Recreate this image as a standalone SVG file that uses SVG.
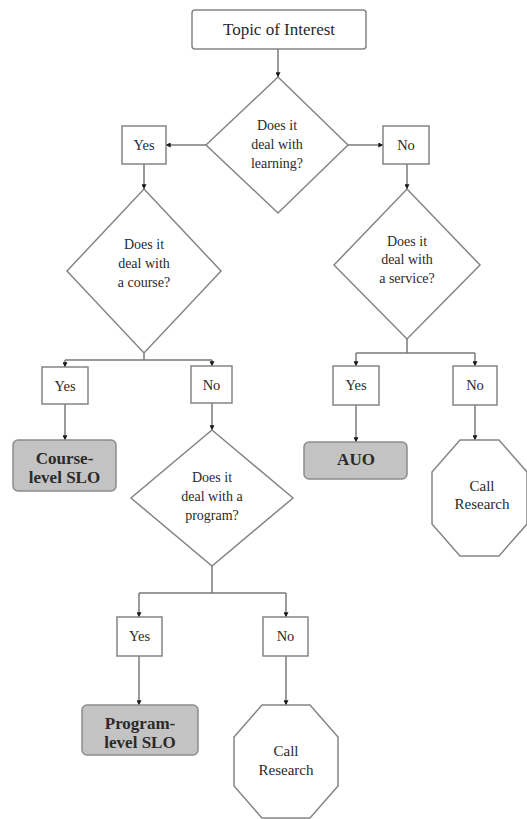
<svg xmlns="http://www.w3.org/2000/svg" width="527" height="819" viewBox="0 0 527 819">
  <style>
    .shape { fill: #ffffff; stroke: #858585; stroke-width: 1.5; }
    .result { fill: #c3c3c3; stroke: #8c8c8c; stroke-width: 1.5; }
    .wire { fill: none; stroke: #7a7a7a; stroke-width: 1.5; }
    text { font-family: "Liberation Serif", "Times New Roman", serif; fill: #2a2a2a; text-anchor: middle; }
    .q { font-size: 14px; }
    .lbl { font-size: 14.5px; }
    .bold { font-size: 17px; font-weight: bold; }
    .title { font-size: 17px; }
    .stop { font-size: 15px; }
  </style>
  <defs>
    <marker id="arrow" viewBox="0 0 8 8" refX="7.5" refY="4" markerWidth="5" markerHeight="5" orient="auto" markerUnits="userSpaceOnUse">
      <path d="M0,0 L8,4 L0,8 Z" fill="#1a1a1a"/>
    </marker>
  </defs>
  <rect width="527" height="819" fill="#ffffff"/>

  <!-- connectors -->
  <g id="connectors">
    <line class="wire" x1="278" y1="49" x2="278" y2="77" marker-end="url(#arrow)"/>
    <line class="wire" x1="206" y1="145" x2="166" y2="145" marker-end="url(#arrow)"/>
    <line class="wire" x1="348" y1="145" x2="383" y2="145" marker-end="url(#arrow)"/>
    <line class="wire" x1="144" y1="164" x2="144" y2="189" marker-end="url(#arrow)"/>
    <line class="wire" x1="407" y1="164" x2="407" y2="189" marker-end="url(#arrow)"/>
    <!-- course split -->
    <path class="wire" d="M144,353 V360 M65,360 H212"/>
    <line class="wire" x1="65" y1="360" x2="65" y2="367" marker-end="url(#arrow)"/>
    <line class="wire" x1="212" y1="360" x2="212" y2="366" marker-end="url(#arrow)"/>
    <line class="wire" x1="65" y1="404" x2="65" y2="440" marker-end="url(#arrow)"/>
    <line class="wire" x1="212" y1="403" x2="212" y2="430" marker-end="url(#arrow)"/>
    <!-- program split -->
    <path class="wire" d="M212,566 V593 M139,593 H286"/>
    <line class="wire" x1="139" y1="593" x2="139" y2="617" marker-end="url(#arrow)"/>
    <line class="wire" x1="286" y1="593" x2="286" y2="617" marker-end="url(#arrow)"/>
    <line class="wire" x1="139" y1="656" x2="139" y2="705" marker-end="url(#arrow)"/>
    <line class="wire" x1="286" y1="656" x2="286" y2="705" marker-end="url(#arrow)"/>
    <!-- service split -->
    <path class="wire" d="M407,339 V353 M356,353 H475"/>
    <line class="wire" x1="356" y1="353" x2="356" y2="366" marker-end="url(#arrow)"/>
    <line class="wire" x1="475" y1="353" x2="475" y2="366" marker-end="url(#arrow)"/>
    <line class="wire" x1="356" y1="405" x2="356" y2="442" marker-end="url(#arrow)"/>
    <line class="wire" x1="475" y1="405" x2="475" y2="440" marker-end="url(#arrow)"/>
  </g>

  <g id="topic">
    <rect class="shape" x="192" y="10" width="174" height="39" rx="3"/>
    <text class="title" x="279" y="35">Topic of Interest</text>
  </g>

  <g id="q-learning">
    <polygon class="shape" points="278,77 348,145 278,213 206,145"/>
    <text class="q" x="277" y="130">Does it</text>
    <text class="q" x="277" y="149">deal with</text>
    <text class="q" x="277" y="168">learning?</text>
  </g>

  <g id="yes-learning">
    <rect class="shape" x="122" y="126" width="44" height="38"/>
    <text class="lbl" x="144" y="150">Yes</text>
  </g>
  <g id="no-learning">
    <rect class="shape" x="383" y="126" width="46" height="38"/>
    <text class="lbl" x="406" y="150">No</text>
  </g>

  <g id="q-course">
    <polygon class="shape" points="144,189 221,271 144,353 67,271"/>
    <text class="q" x="144" y="249">Does it</text>
    <text class="q" x="144" y="268">deal with</text>
    <text class="q" x="144" y="287">a course?</text>
  </g>

  <g id="q-service">
    <polygon class="shape" points="407,189 480,265 407,339 334,265"/>
    <text class="q" x="407" y="246">Does it</text>
    <text class="q" x="407" y="264">deal with</text>
    <text class="q" x="407" y="283">a service?</text>
  </g>

  <g id="yes-course">
    <rect class="shape" x="42" y="367" width="46" height="37"/>
    <text class="lbl" x="65" y="391">Yes</text>
  </g>
  <g id="no-course">
    <rect class="shape" x="191" y="366" width="41" height="37"/>
    <text class="lbl" x="211.5" y="390">No</text>
  </g>

  <g id="yes-service">
    <rect class="shape" x="333" y="366" width="46" height="39"/>
    <text class="lbl" x="356" y="390">Yes</text>
  </g>
  <g id="no-service">
    <rect class="shape" x="453" y="366" width="44" height="39"/>
    <text class="lbl" x="475" y="390">No</text>
  </g>

  <g id="course-slo">
    <rect class="result" x="13" y="440" width="103" height="51" rx="5"/>
    <text class="bold" x="64.5" y="464">Course-</text>
    <text class="bold" x="64.5" y="483">level SLO</text>
  </g>

  <g id="auo">
    <rect class="result" x="304" y="442" width="103" height="37" rx="5"/>
    <text class="bold" x="356" y="465">AUO</text>
  </g>

  <g id="call-research-1">
    <polygon class="shape" points="460,440 499,440 527,472 527,524 499,556 460,556 432,524 432,472"/>
    <text class="stop" x="482" y="491">Call</text>
    <text class="stop" x="482" y="509">Research</text>
  </g>

  <g id="q-program">
    <polygon class="shape" points="212,430 293,498 212,566 131,498"/>
    <text class="q" x="212" y="482">Does it</text>
    <text class="q" x="212" y="501">deal with a</text>
    <text class="q" x="212" y="520">program?</text>
  </g>

  <g id="yes-program">
    <rect class="shape" x="117" y="617" width="45" height="39"/>
    <text class="lbl" x="139.5" y="641">Yes</text>
  </g>
  <g id="no-program">
    <rect class="shape" x="263" y="617" width="45" height="39"/>
    <text class="lbl" x="285.5" y="641">No</text>
  </g>

  <g id="program-slo">
    <rect class="result" x="82" y="705" width="116" height="50" rx="5"/>
    <text class="bold" x="140" y="729">Program-</text>
    <text class="bold" x="140" y="748">level SLO</text>
  </g>

  <g id="call-research-2">
    <polygon class="shape" points="262,705 310,705 338,737 338,786 310,818 262,818 234,786 234,737"/>
    <text class="stop" x="286" y="756">Call</text>
    <text class="stop" x="286" y="775">Research</text>
  </g>
</svg>
